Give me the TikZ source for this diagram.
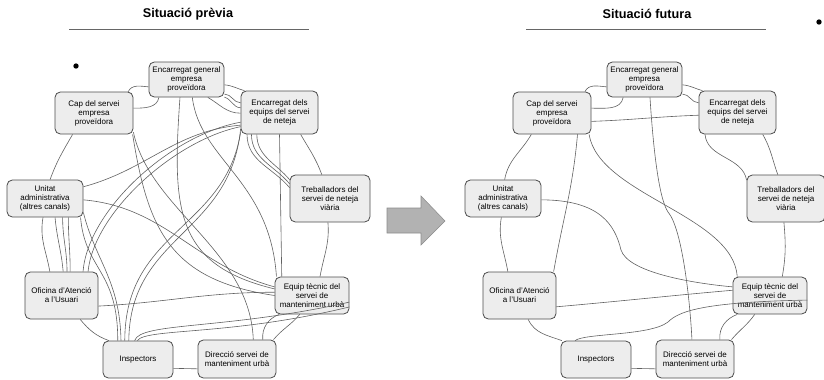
\documentclass[tikz,border=0pt]{standalone}
\usepackage{fontspec}
\setmainfont{Liberation Sans}
\usepackage{tikz}

\tikzset{
    box/.style={draw=black!70, fill=black!7, rounded corners=4pt, align=center, inner sep=0pt, line width=0.6pt, font=\fontsize{6}{6.8}\selectfont},
    conn/.style={draw=black!62, line width=0.45pt},
    title/.style={font=\bfseries\fontsize{9.5}{11}\selectfont},
}

\begin{document}
\begin{tikzpicture}[x=0.75pt,y=-0.75pt]
    \useasboundingbox (0,0) rectangle (824,379);

    \node[title] (t1) at (188,14) {Situació prèvia};
    \node[title] (t2) at (647,14) {Situació futura};
    \draw[black!60, line width=1.2pt] (69,29.5) -- (309,29.5);
    \draw[black!60, line width=1.2pt] (526,29.5) -- (766,29.5);
    \fill (76,66) circle[radius=2pt];
    \fill (819,22) circle[radius=2pt];

    \draw[fill=black!30, draw=black!45] (387,208) -- (421,208) -- (421,196) -- (445,221) -- (421,245) -- (421,233) -- (387,233) -- cycle;

    \node[box, minimum width=56.25pt, minimum height=26.25pt] (eg) at (186.5,79.5) {Encarregat general\\empresa\\proveïdora};
    \node[box, minimum width=58.5pt, minimum height=31.5pt] (cs) at (94,113) {Cap del servei\\empresa\\proveïdora};
    \node[box, minimum width=57.75pt, minimum height=32.25pt] (ee) at (279.5,112.5) {Encarregat dels\\equips del servei\\de neteja};
    \node[box, minimum width=57pt, minimum height=27.75pt] (ua) at (45,198.5) {Unitat\\administrativa\\(altres canals)};
    \node[box, minimum width=60pt, minimum height=35.25pt] (tr) at (330,198.5) {Treballadors del\\servei de neteja\\viària};
    \node[box, minimum width=54.75pt, minimum height=35.25pt] (of) at (61.5,295.5) {Oficina d'Atenció\\a l'Usuari};
    \node[box, minimum width=55.5pt, minimum height=27.75pt] (et) at (312,295.5) {Equip tècnic del\\servei de\\manteniment urbà};
    \node[box, minimum width=52.5pt, minimum height=27.75pt] (insp) at (138,359.5) {Inspectors};
    \node[box, minimum width=58.5pt, minimum height=28.5pt] (di) at (237,359) {Direcció servei de\\manteniment urbà};

    \draw[conn] (eg.191) to[out=175,in=65] (cs.32);
    \draw[conn] (cs.7) to[out=0,in=260] (eg.213);
    \draw[conn] (eg.-8) to[out=-5,in=165] (ee.148);
    \draw[conn] (eg.-21) to[out=0,in=180] (ee.166);
    \draw[conn] (eg.-25) to[out=-15,in=180] (ee.173);
    \draw[conn] (eg.-40) to[out=-30,in=180] (ee.181);
    \draw[conn] (ee.-46) to[out=-60,in=110] (tr.109);
    \draw[conn] (ee.214) to[out=-90,in=130] (tr.165);
    \draw[conn] (ee.218) to[out=-90,in=130] (tr.160);
    \draw[conn] (ee.224) to[out=-90,in=130] (tr.155);
    \draw[conn] (tr.-95) to[out=-85,in=80] (et.67);
    \draw[conn] (et.237) to[out=230,in=50] (di.28);
    \draw[conn] (di.37) to[out=95,in=200] (et.210);
    \draw[conn] (insp.-14) -- (di.194);
    \draw[conn] (of.-52) to[out=-50,in=160] (insp.147);
    \draw[conn] (ua.-96) to[out=-100,in=100] (of.116);
    \draw[conn] (ua.-62) to[out=-85,in=95] (of.86);
    \draw[conn] (ua.-47) to[out=-90,in=90] (of.77);
    \draw[conn] (ua.-39) to[out=-90,in=90] (of.70);
    \draw[conn] (cs.225) to[out=240,in=70] (ua.75);
    \draw[conn] (ee.south) -- (et.148);
    \draw[conn] (ua.17) to[out=15,in=185] (ee.198);
    \draw[conn] (ua.-2) to[out=-5,in=165] (et.167);
    \draw[conn] (of.-16) to[out=3,in=180] (et.175);
    \draw[conn] (insp.100) .. controls (140,322) and (225,330) .. (et.-10);
    \draw[conn] (insp.92) .. controls (146,328) and (230,336) .. (et.-17);
    \draw[conn] (insp.125) .. controls (125,230) and (225,230) .. (ee.207);
    \draw[conn] (insp.116) .. controls (130,235) and (230,235) .. (ee.203);
    \draw[conn] (of.48) .. controls (88,210) and (170,135) .. (ee.194);
    \draw[conn] (of.42) .. controls (94,212) and (175,140) .. (ee.200);
    \draw[conn] (ua.-28) .. controls (85,270) and (118,270) .. (insp.137);
    \draw[conn] (ua.-20) .. controls (95,260) and (120,280) .. (insp.132);
    \draw[conn] (cs.-29) .. controls (148,230) and (170,280) .. (et.180);
    \draw[conn] (cs.-26) .. controls (150,210) and (250,250) .. (di.50);
    \draw[conn] (eg.250) .. controls (172,210) and (175,265) .. (et.170);
    \draw[conn] (eg.-72) .. controls (200,160) and (270,180) .. (et.152);

    \node[box, minimum width=56.25pt, minimum height=26.25pt] (eg2) at (644.5,79.5) {Encarregat general\\empresa\\proveïdora};
    \node[box, minimum width=58.5pt, minimum height=31.5pt] (cs2) at (552,113) {Cap del servei\\empresa\\proveïdora};
    \node[box, minimum width=57.75pt, minimum height=32.25pt] (ee2) at (737.5,112.5) {Encarregat dels\\equips del servei\\de neteja};
    \node[box, minimum width=57pt, minimum height=27.75pt] (ua2) at (503,198.5) {Unitat\\administrativa\\(altres canals)};
    \node[box, minimum width=58.5pt, minimum height=35.25pt] (tr2) at (786,198.5) {Treballadors del\\servei de neteja\\viària};
    \node[box, minimum width=54.75pt, minimum height=35.25pt] (of2) at (519.5,295.5) {Oficina d'Atenció\\a l'Usuari};
    \node[box, minimum width=55.5pt, minimum height=27.75pt] (et2) at (770,295.5) {Equip tècnic del\\servei de\\manteniment urbà};
    \node[box, minimum width=52.5pt, minimum height=27.75pt] (insp2) at (596,359.5) {Inspectors};
    \node[box, minimum width=58.5pt, minimum height=28.5pt] (di2) at (695,359) {Direcció servei de\\manteniment urbà};

    \draw[conn] (eg2.191) to[out=175,in=65] (cs2.33);
    \draw[conn] (cs2.7) to[out=0,in=260] (eg2.220);
    \draw[conn] (eg2.-8) to[out=-5,in=165] (ee2.148);
    \draw[conn] (eg2.-21) to[out=0,in=180] (ee2.166);
    \draw[conn] (cs2.-12) to[out=2,in=182] (ee2.184);
    \draw[conn] (eg2.-73) .. controls (654,160) and (660,200) .. (668,212) .. controls (682,228) and (690,300) .. (di2.99);
    \draw[conn] (cs2.-30) .. controls (599,195) and (733,215) .. (et2.150);
    \draw[conn] (cs2.-40) to[out=-95,in=80] (of2.35);
    \draw[conn] (cs2.226) to[out=240,in=80] (ua2.85);
    \draw[conn] (ua2.-2) .. controls (600,200) and (615,225) .. (621,250) .. controls (628,272) and (690,283) .. (et2.167);
    \draw[conn] (ua2.265) to[out=-100,in=100] (of2.116);
    \draw[conn] (of2.-17) to[out=5,in=185] (et2.172);
    \draw[conn] (of2.-70) to[out=-65,in=160] (insp2.151);
    \draw[conn] (insp2.138) .. controls (585,333) and (650,336) .. (668,322) .. controls (678,312) and (700,302) .. (et2.-7);
    \draw[conn] (insp2.-14) -- (di2.194);
    \draw[conn] (di2.28) to[out=50,in=235] (et2.231);
    \draw[conn] (di2.38) to[out=95,in=200] (et2.210);
    \draw[conn] (tr2.-95) to[out=-85,in=80] (et2.57);
    \draw[conn] (ee2.-41) to[out=-60,in=110] (tr2.109);
    \draw[conn] (ee2.214) to[out=-85,in=100] (tr2.155);
\end{tikzpicture}
\end{document}
